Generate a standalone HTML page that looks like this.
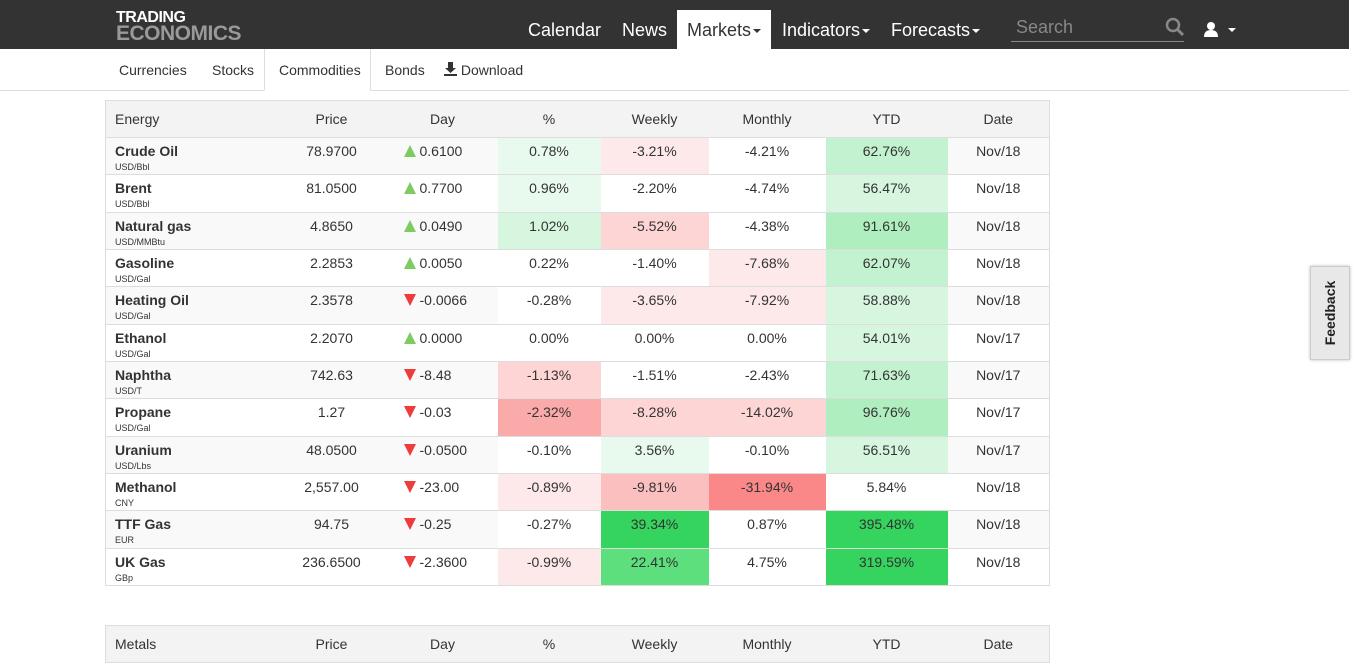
<!DOCTYPE html>
<html><head><meta charset="utf-8">
<style>
*{box-sizing:border-box;margin:0;padding:0}
body{width:1366px;height:643px;overflow:hidden;background:#fff;font-family:"Liberation Sans",Arial,sans-serif;color:#333;position:relative}
.nav{position:absolute;left:0;top:0;width:1349px;height:49px;background:#333}
.logo{position:absolute;left:116px;top:10px;font-weight:bold;line-height:15px;letter-spacing:-0.5px}
.logo .a{color:#fff;font-size:16px}
.logo .b{color:#999;font-size:21px;line-height:17px}
.ni{position:absolute;top:10px;height:39px;line-height:40px;font-size:18px;color:#fff}
.ni.act{background:#fff;color:#333;padding:0 10px}
.car{display:inline-block;width:0;height:0;border-left:4px solid transparent;border-right:4px solid transparent;border-top:4px solid currentColor;vertical-align:middle;margin-left:2px}
.search{position:absolute;left:1011px;top:17px;width:173px;height:25px;border-bottom:1px solid #888;color:#888;font-size:18px;padding-left:5px}
.tabs{position:absolute;left:0;top:49px;width:1349px;height:42px;border-bottom:1px solid #ddd}
.tab{position:absolute;top:13px;font-size:14px;color:#333}
.tabact{position:absolute;left:264px;top:0;width:107px;height:42px;background:#fff;border:1px solid #ddd;border-top:none;border-bottom:1px solid #fff}
table{position:absolute;left:105px;border-collapse:collapse;table-layout:fixed;width:944px;font-size:14px}
td,th{border-top:1px solid #ddd;text-align:center;font-weight:normal;vertical-align:top}
th{height:37px;background:#f3f3f3;line-height:36px;border-top:1px solid #ddd}
td{height:37.33px;padding-top:5px;line-height:16px}
th:first-child,td:first-child{text-align:left;padding-left:9px}
td.d{text-align:left;padding-left:16px}
tr.o td{background:#f9f9f9}
td b{font-size:14px;color:#333}
td small{display:block;font-size:9px;line-height:11px;margin-top:3px}
.up{display:inline-block;width:0;height:0;border-left:6px solid transparent;border-right:6px solid transparent;border-bottom:12px solid #7dcc62;margin-right:4px;vertical-align:-1px}
.dn{display:inline-block;width:0;height:0;border-left:6px solid transparent;border-right:6px solid transparent;border-top:12px solid #ee3c3c;margin-right:4px;vertical-align:-1px}
tr td.g1{background:#e8f9ee}tr td.g2{background:#d6f6df}tr td.g3{background:#c3f2d0}tr td.g4{background:#aeeebf}tr td.g5{background:#5ddf7e}tr td.g6{background:#34d45e}
tr td.r1{background:#fde9e9}tr td.r2{background:#fdd5d5}tr td.r3{background:#fbbfbf}tr td.r4{background:#fbaaaa}tr td.r5{background:#fa8888}
.fb{position:absolute;left:1310px;top:266px;width:40px;height:94px;background:#e8e8e8;border:1px solid #ccc;box-shadow:0 0 3px #bbb}
.fb span{position:absolute;left:50%;top:50%;transform:translate(-50%,-50%) rotate(-90deg);font-size:14px;font-weight:bold;color:#222}
</style></head><body>
<div class="nav">
<div class="logo"><div class="a">TRADING</div><div class="b">ECONOMICS</div></div>
<div class="ni" style="left:528px">Calendar</div>
<div class="ni" style="left:622px">News</div>
<div class="ni act" style="left:677px">Markets<span class="car"></span></div>
<div class="ni" style="left:782px">Indicators<span class="car"></span></div>
<div class="ni" style="left:891px">Forecasts<span class="car"></span></div>
<div class="search">Search</div>
<svg style="position:absolute;left:1165px;top:17px" width="20" height="20" viewBox="0 0 20 20"><circle cx="8" cy="8" r="6" fill="none" stroke="#888" stroke-width="2.5"/><line x1="12" y1="12" x2="18" y2="18" stroke="#888" stroke-width="3"/></svg>
<svg style="position:absolute;left:1203px;top:21px" width="16" height="16" viewBox="0 0 16 16"><circle cx="8" cy="5" r="4" fill="#fff"/><path d="M1 16 Q1 9 8 9 Q15 9 15 16Z" fill="#fff"/></svg>
<span class="car" style="position:absolute;left:1226px;top:28px;color:#fff"></span>
</div>
<div class="tabs">
<div class="tabact"></div>
<div class="tab" style="left:119px">Currencies</div>
<div class="tab" style="left:212px">Stocks</div>
<div class="tab" style="left:279px">Commodities</div>
<div class="tab" style="left:385px">Bonds</div>
<div class="tab" style="left:444px"><svg width="13" height="14" viewBox="0 0 13 14" style="vertical-align:-1px"><path d="M4 0h5v6h3l-5.5 5L1 6h3z" fill="#333"/><rect x="0" y="12" width="13" height="2" fill="#333"/></svg> Download</div>
</div>
<table style="top:100px;border:1px solid #ddd">
<colgroup><col style="width:170px"><col style="width:112px"><col style="width:110px"><col style="width:103px"><col style="width:108px"><col style="width:117px"><col style="width:122px"><col style="width:102px"></colgroup>
<tr><th>Energy</th><th>Price</th><th>Day</th><th>%</th><th>Weekly</th><th>Monthly</th><th>YTD</th><th>Date</th></tr>
<tr class="o"><td><b>Crude Oil</b><small>USD/Bbl</small></td><td>78.9700</td><td class="d"><span class="up"></span>0.6100</td><td class="g1">0.78%</td><td class="r1">-3.21%</td><td style="background:#fff">-4.21%</td><td class="g3">62.76%</td><td>Nov/18</td></tr>
<tr><td><b>Brent</b><small>USD/Bbl</small></td><td>81.0500</td><td class="d"><span class="up"></span>0.7700</td><td class="g1">0.96%</td><td>-2.20%</td><td>-4.74%</td><td class="g2">56.47%</td><td>Nov/18</td></tr>
<tr class="o"><td><b>Natural gas</b><small>USD/MMBtu</small></td><td>4.8650</td><td class="d"><span class="up"></span>0.0490</td><td class="g2">1.02%</td><td class="r2">-5.52%</td><td style="background:#fff">-4.38%</td><td class="g4">91.61%</td><td>Nov/18</td></tr>
<tr><td><b>Gasoline</b><small>USD/Gal</small></td><td>2.2853</td><td class="d"><span class="up"></span>0.0050</td><td>0.22%</td><td>-1.40%</td><td class="r1">-7.68%</td><td class="g3">62.07%</td><td>Nov/18</td></tr>
<tr class="o"><td><b>Heating Oil</b><small>USD/Gal</small></td><td>2.3578</td><td class="d"><span class="dn"></span>-0.0066</td><td style="background:#fff">-0.28%</td><td class="r1">-3.65%</td><td class="r1">-7.92%</td><td class="g2">58.88%</td><td>Nov/18</td></tr>
<tr><td><b>Ethanol</b><small>USD/Gal</small></td><td>2.2070</td><td class="d"><span class="up"></span>0.0000</td><td>0.00%</td><td>0.00%</td><td>0.00%</td><td class="g2">54.01%</td><td>Nov/17</td></tr>
<tr class="o"><td><b>Naphtha</b><small>USD/T</small></td><td>742.63</td><td class="d"><span class="dn"></span>-8.48</td><td class="r2">-1.13%</td><td style="background:#fff">-1.51%</td><td style="background:#fff">-2.43%</td><td class="g3">71.63%</td><td>Nov/17</td></tr>
<tr><td><b>Propane</b><small>USD/Gal</small></td><td>1.27</td><td class="d"><span class="dn"></span>-0.03</td><td class="r4">-2.32%</td><td class="r2">-8.28%</td><td class="r2">-14.02%</td><td class="g4">96.76%</td><td>Nov/17</td></tr>
<tr class="o"><td><b>Uranium</b><small>USD/Lbs</small></td><td>48.0500</td><td class="d"><span class="dn"></span>-0.0500</td><td style="background:#fff">-0.10%</td><td class="g1">3.56%</td><td style="background:#fff">-0.10%</td><td class="g2">56.51%</td><td>Nov/17</td></tr>
<tr><td><b>Methanol</b><small>CNY</small></td><td>2,557.00</td><td class="d"><span class="dn"></span>-23.00</td><td class="r1">-0.89%</td><td class="r3">-9.81%</td><td class="r5">-31.94%</td><td>5.84%</td><td>Nov/18</td></tr>
<tr class="o"><td><b>TTF Gas</b><small>EUR</small></td><td>94.75</td><td class="d"><span class="dn"></span>-0.25</td><td style="background:#fff">-0.27%</td><td class="g6">39.34%</td><td style="background:#fff">0.87%</td><td class="g6">395.48%</td><td>Nov/18</td></tr>
<tr><td><b>UK Gas</b><small>GBp</small></td><td>236.6500</td><td class="d"><span class="dn"></span>-2.3600</td><td class="r1">-0.99%</td><td class="g5">22.41%</td><td>4.75%</td><td class="g6">319.59%</td><td>Nov/18</td></tr>
</table>
<table style="top:625px;border:1px solid #ddd">
<colgroup><col style="width:170px"><col style="width:112px"><col style="width:110px"><col style="width:103px"><col style="width:108px"><col style="width:117px"><col style="width:122px"><col style="width:102px"></colgroup>
<tr><th>Metals</th><th>Price</th><th>Day</th><th>%</th><th>Weekly</th><th>Monthly</th><th>YTD</th><th>Date</th></tr>
</table>
<div class="fb"><span>Feedback</span></div>
</body></html>
